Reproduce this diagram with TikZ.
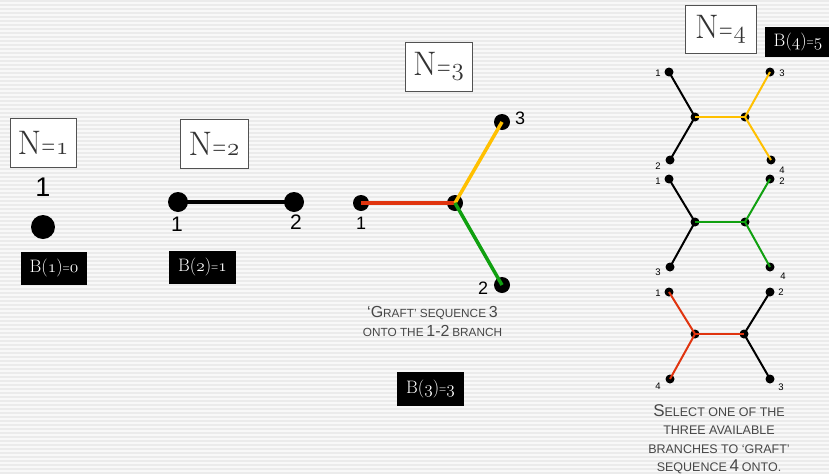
\documentclass[tikz,border=0pt]{standalone}
\usepackage{fontspec}
\setsansfont{Liberation Sans}

\definecolor{paper}{HTML}{F8F8F8}
\definecolor{stripe}{HTML}{EBEBEB}
\definecolor{ink}{HTML}{333333}
\definecolor{capgray}{HTML}{474747}
\definecolor{branchred}{HTML}{E0340F}
\definecolor{branchyellow}{HTML}{FFC000}
\definecolor{branchgreen}{HTML}{10A010}

% old-style figures taken from the math italic font
\newcommand\osnum[1]{{\fontencoding{OML}\fontfamily{cmm}\fontseries{m}\fontshape{it}\selectfont #1}}
\newcommand\narroweq{\scalebox{0.55}[0.85]{=}}
\newcommand\ntitle[1]{N\kern0.5pt\narroweq\kern1pt\osnum{#1}}
\newcommand\bval[2]{B(\osnum{#1})\narroweq\osnum{#2}}
% caption lettering: large and small capitals
\newcommand\lgA[1]{{\fontsize{16}{18}\selectfont #1}}
\newcommand\smA[1]{{\fontsize{11.8}{18}\selectfont #1}}
\newcommand\lgB[1]{{\fontsize{17}{18}\selectfont #1}}
\newcommand\smB[1]{{\fontsize{12.5}{18}\selectfont #1}}

\tikzset{
  titlebox/.style={draw=ink!85, line width=1pt, fill=white, text=ink,
    font=\fontsize{34}{34}\selectfont, inner sep=0pt},
  valbox/.style={fill=black, text=white, font=\fontsize{18}{18}\selectfont,
    inner sep=0pt},
  dot/.style={circle, fill=black, inner sep=0pt},
  bigdot/.style={dot, minimum size=24},
  middot/.style={dot, minimum size=20},
  smalldot/.style={dot, minimum size=16},
  tinydot/.style={dot, minimum size=9},
  numlabel/.style={font=\sffamily, text=black, inner sep=0pt},
  tinylabel/.style={numlabel, font=\sffamily\fontsize{9.5}{10}\selectfont},
  caption/.style={text=capgray, font=\sffamily, inner sep=0pt, anchor=base},
  thick branch/.style={line width=3.5pt},
  thin branch/.style={line width=2pt},
}

\begin{document}
\begin{tikzpicture}[x=1pt, y=-1pt]
  \useasboundingbox (0,0) rectangle (829,474);
  % striped backdrop
  \fill[paper] (0,0) rectangle (829,474);
  \foreach \i in {0,...,118}
    \fill[stripe] (0,4*\i) rectangle (829,4*\i+2);

  % ---------- N = 1 ----------
  \node[titlebox, minimum width=66, minimum height=49] (t1) at (43,142.5) {\ntitle{1}};
  \node[numlabel, font=\sffamily\fontsize{27}{27}\selectfont] (n1l1) at (43,187) {1};
  \node[bigdot] (n1a) at (43,227) {};
  \node[valbox, minimum width=66, minimum height=33] (b1) at (54,268.5) {\bval{1}{0}};

  % ---------- N = 2 ----------
  \node[titlebox, minimum width=68, minimum height=49] (t2) at (214,143.5) {\ntitle{2}};
  \node[middot] (n2a) at (178,202) {};
  \node[middot] (n2b) at (294,202) {};
  \draw[line width=4pt] (n2a.center) -- (n2b.center);
  \node[numlabel, font=\sffamily\fontsize{21}{21}\selectfont] (n2l1) at (177,224) {1};
  \node[numlabel, font=\sffamily\fontsize{21}{21}\selectfont] (n2l2) at (296,222) {2};
  \node[valbox, minimum width=67, minimum height=33] (b2) at (202.5,267.5) {\bval{2}{1}};

  % ---------- N = 3 ----------
  \node[titlebox, minimum width=67, minimum height=49] (t3) at (438.5,66.5) {\ntitle{3}};
  \node[smalldot] (n3a) at (361,203) {};
  \node[smalldot] (n3c) at (455,203) {};
  \node[smalldot] (n3t) at (502,122) {};
  \node[smalldot] (n3b) at (502,285) {};
  \draw[thick branch, branchred] (n3a.center) -- (n3c.center);
  \draw[thick branch, branchyellow] (n3c.center) -- (n3t.center);
  \draw[thick branch, branchgreen] (n3c.center) -- (n3b.center);
  \node[numlabel, font=\sffamily\fontsize{18}{18}\selectfont] (n3l1) at (361,223) {1};
  \node[numlabel, font=\sffamily\fontsize{18}{18}\selectfont] (n3l3) at (520,118) {3};
  \node[numlabel, font=\sffamily\fontsize{18}{18}\selectfont] (n3l2) at (483,288) {2};
  \node[caption] (c3a) at (432.5,317)
    {\lgA{‘G}\smA{RAFT’ SEQUENCE} \lgA{3}};
  \node[caption] (c3b) at (432.5,336)
    {\smA{ONTO THE} \lgA{1-2} \smA{BRANCH}};
  \node[valbox, minimum width=67, minimum height=34] (b3) at (430.5,389) {\bval{3}{3}};

  % ---------- N = 4 ----------
  \node[titlebox, minimum width=71, minimum height=48] (t4) at (720.5,29) {\ntitle{4}};
  \node[valbox, minimum width=66, minimum height=30] (b4) at (798,42) {\bval{4}{5}};

  % tree with the internal branch (and 3, 4 side) highlighted
  \node[tinydot] (p1) at (669,72) {};
  \node[tinydot] (p3) at (770,72) {};
  \node[tinydot] (pL) at (695,117) {};
  \node[tinydot] (pR) at (745,117) {};
  \node[tinydot] (p2) at (670,160) {};
  \node[tinydot] (p4) at (771,160) {};
  \draw[thin branch] (p1.center) -- (pL.center) -- (p2.center);
  \draw[thin branch, branchyellow] (p3.center) -- (pR.center) -- (p4.center);
  \draw[thin branch, branchyellow] (pL.center) -- (pR.center);
  \node[tinylabel] (pl1) at (658,73) {1};
  \node[tinylabel] (pl3) at (782,73) {3};
  \node[tinylabel] (pl2) at (658,166) {2};
  \node[tinylabel] (pl4) at (782,170) {4};

  % second tree
  \node[tinydot] (q1) at (669,179) {};
  \node[tinydot] (q2) at (770,179) {};
  \node[tinydot] (qL) at (695,222) {};
  \node[tinydot] (qR) at (745,222) {};
  \node[tinydot] (q3) at (670,267) {};
  \node[tinydot] (q4) at (770,267) {};
  \draw[thin branch] (q1.center) -- (qL.center) -- (q3.center);
  \draw[thin branch, branchgreen] (q2.center) -- (qR.center) -- (q4.center);
  \draw[thin branch, branchgreen] (qL.center) -- (qR.center);
  \node[tinylabel] (ql1) at (658,181) {1};
  \node[tinylabel] (ql2) at (782,181) {2};
  \node[tinylabel] (ql3) at (658,272) {3};
  \node[tinylabel] (ql4) at (783,276) {4};

  % third tree
  \node[tinydot] (r1) at (669,292) {};
  \node[tinydot] (r2) at (770,292) {};
  \node[tinydot] (rL) at (695,334) {};
  \node[tinydot] (rR) at (744,334) {};
  \node[tinydot] (r4) at (670,379) {};
  \node[tinydot] (r3) at (770,379) {};
  \draw[thin branch] (r2.center) -- (rR.center) -- (r3.center);
  \draw[thin branch, branchred] (r1.center) -- (rL.center) -- (r4.center);
  \draw[thin branch, branchred] (rL.center) -- (rR.center);
  \node[tinylabel] (rl1) at (658,293) {1};
  \node[tinylabel] (rl2) at (781,292) {2};
  \node[tinylabel] (rl4) at (658,386) {4};
  \node[tinylabel] (rl3) at (781,387) {3};

  \node[caption] (c4a) at (719,416) {\lgB{S}\smB{ELECT ONE OF THE}};
  \node[caption] (c4b) at (719,434) {\smB{THREE AVAILABLE}};
  \node[caption] (c4c) at (719,453) {\smB{BRANCHES TO ‘GRAFT’}};
  \node[caption] (c4d) at (719,471) {\smB{SEQUENCE} \lgB{4} \smB{ONTO.}};
\end{tikzpicture}
\end{document}
